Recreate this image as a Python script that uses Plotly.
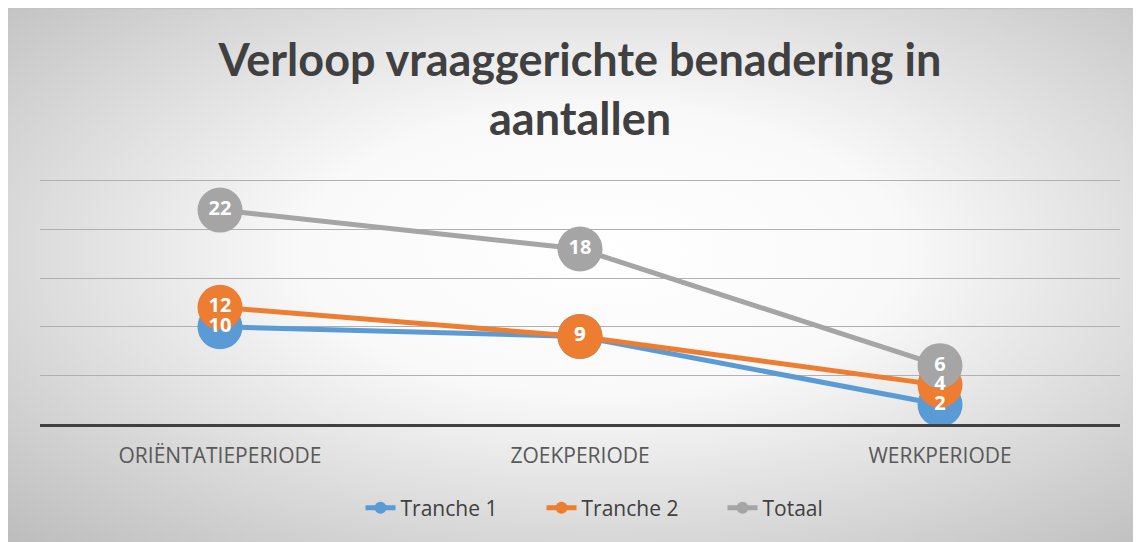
import base64
import plotly.graph_objects as go

categories = ["ORIËNTATIEPERIODE", "ZOEKPERIODE", "WERKPERIODE"]
tranche1 = [10, 9, 2]
tranche2 = [12, 9, 4]
totaal = [22, 18, 6]
series_names = ["Tranche 1", "Tranche 2", "Totaal"]
series_colors = ["#5B9BD5", "#ED7D31", "#A5A5A5"]
title_text = "Verloop vraaggerichte benadering in<br>aantallen"

W, H = 1141, 542
ML, MR, MT, MB = 32, 29, 170, 126

svg = (
    '<svg xmlns="http://www.w3.org/2000/svg" width="1141" height="542" viewBox="0 0 1141 542" preserveAspectRatio="none">'
    '<defs><radialGradient id="g" cx="52%" cy="45%" r="75%" fx="52%" fy="45%">'
    '<stop offset="0%" stop-color="#ffffff"/>'
    '<stop offset="35%" stop-color="#f9f9f9"/>'
    '<stop offset="100%" stop-color="#bcbcbc"/>'
    '</radialGradient></defs>'
    '<rect x="0" y="0" width="1141" height="542" fill="url(#g)"/>'
    '<rect x="0" y="0" width="1141" height="1.2" fill="#c4c4c4"/>'
    '</svg>'
)
src = "data:image/svg+xml;base64," + base64.b64encode(svg.encode()).decode()

fig = go.Figure()
all_series = [tranche1, tranche2, totaal]
for name, vals, col in zip(series_names, all_series, series_colors):
    fig.add_trace(go.Scatter(
        x=categories, y=vals, name=name, mode="lines+markers",
        line=dict(color=col, width=5),
        marker=dict(color=col, size=45),
        cliponaxis=False, hoverinfo="skip",
    ))
for name, vals, col in zip(series_names, all_series, series_colors):
    fig.add_trace(go.Scatter(
        x=categories, y=vals, mode="text", text=[str(v) for v in vals],
        textposition="middle center", showlegend=False,
        textfont=dict(family="Open Sans", size=20, color="white", weight="bold"),
        cliponaxis=False, hoverinfo="skip",
    ))

PW = W - ML - MR
fig.update_layout(
    width=W, height=H,
    margin=dict(l=ML, r=MR, t=MT, b=MB),
    paper_bgcolor="white", plot_bgcolor="rgba(0,0,0,0)",
    title=dict(text=title_text, x=0.5, xref="paper", xanchor="center",
               y=1 - 68 / H, yref="container", yanchor="top",
               font=dict(family="Lato", size=45, color="#404040", weight="bold")),
    legend=dict(orientation="h", x=0.5 + 52 / PW, xanchor="center", xref="paper",
                y=1 - 500 / H, yref="container", yanchor="middle",
                font=dict(family="Open Sans", size=21, color="#404040"),
                bgcolor="rgba(0,0,0,0)", itemsizing="constant",
                entrywidth=136),
    images=[dict(source=src, xref="paper", yref="paper",
                 x=-ML / PW, y=1 + MT / (H - MT - MB),
                 sizex=W / PW, sizey=H / (H - MT - MB),
                 xanchor="left", yanchor="top", sizing="stretch", layer="below")],
    showlegend=True,
)
fig.update_xaxes(range=[-0.5, 2.5], showgrid=False, showline=True, linecolor="#404040",
                 linewidth=3, ticks="", ticklabelstandoff=11,
                 tickfont=dict(family="Open Sans", size=21, color="#595959"), fixedrange=True)
fig.update_yaxes(range=[0, 25.3], dtick=5, showgrid=True, gridcolor="#b0b0b0", gridwidth=1,
                 showticklabels=False, zeroline=False, fixedrange=True)

fig.write_html("out.html")
